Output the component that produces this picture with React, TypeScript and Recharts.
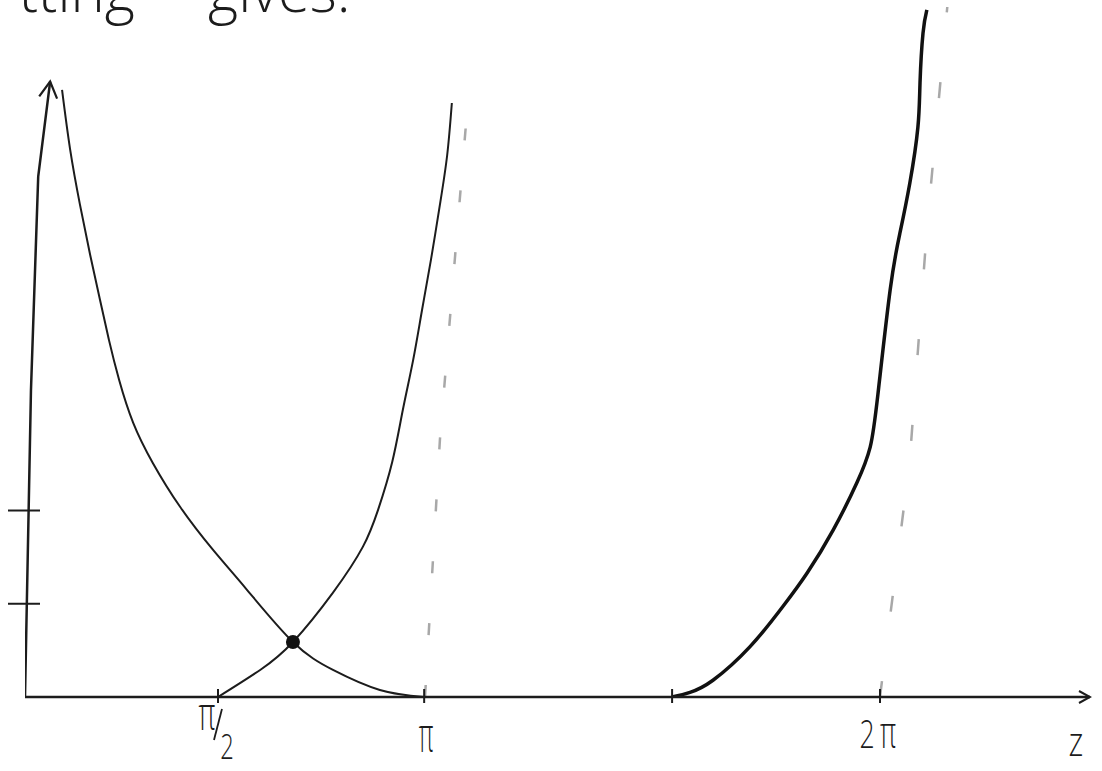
import React from "react";
import { ComposedChart, Line, XAxis, YAxis, ReferenceDot } from "recharts";

// z in units of π along the sketched axis (arrow tip at 2.5)
const Z_TICKS = [0.453, 0.937, 1.519, 2.007];
const Z_TICK_LABELS = ["π/2", "π", "", "2π"];
const Y_TICKS = [1, 2];

// falling branch: from the top of the axis down to zero at π
const FALL_Z = [0.087, 0.106, 0.129, 0.153, 0.176, 0.197, 0.221, 0.254, 0.3, 0.364, 0.441, 0.521, 0.629, 0.723, 0.833, 0.937];
const FALL_Y = [6.51, 5.87, 5.28, 4.74, 4.26, 3.83, 3.4, 2.94, 2.51, 2.04, 1.58, 1.15, 0.59, 0.29, 0.075, 0];

// rising branch: from π/2 up towards the asymptote past π
const RISE_Z = [0.453, 0.552, 0.629, 0.723, 0.793, 0.829, 0.862, 0.887, 0.911, 0.932, 0.953, 0.974, 0.991, 1.002];
const RISE_Y = [0, 0.29, 0.59, 1.12, 1.61, 2.01, 2.52, 3.08, 3.61, 4.15, 4.69, 5.28, 5.81, 6.37];

// second rising branch, heavier stroke, blowing up just past 2π
const RISE2_Z = [1.519, 1.561, 1.615, 1.702, 1.779, 1.836, 1.897, 1.953, 1.984, 2.002, 2.031, 2.054, 2.077, 2.096, 2.101, 2.108, 2.117];
const RISE2_Y = [0, 0.05, 0.18, 0.54, 0.97, 1.33, 1.79, 2.3, 2.68, 3.24, 4.37, 4.98, 5.51, 6.11, 6.59, 7.12, 7.37];

// dashed asymptotes
const ASYM1_Z = [0.939, 0.974, 1.038];
const ASYM1_Y = [0, 2.76, 6.3];
const ASYM2_Z = [2.007, 2.077, 2.117, 2.165];
const ASYM2_Y = [0, 2.54, 5.01, 7.4];

// hand-drawn vertical axis, leaning slightly right
const YAXIS_Z = [0, 0.014, 0.031, 0.059];
const YAXIS_Y = [0, 3.29, 5.58, 6.6];

const CROSSING = { z: 0.629, y: 0.59 };

const toRows = (zs: number[], ys: number[]) => zs.map((z, i) => ({ z, y: ys[i] }));

const INK = "#1c1c1c";
const HAND = "'Open Sans', 'DejaVu Sans', sans-serif";

// narrow, tall glyphs like the pen-drawn labels
const Glyph = ({ x, y, size, sx = 0.6, children }: any) => (
  <text
    transform={`translate(${x},${y}) scale(${sx},1)`}
    textAnchor="middle"
    fontFamily={HAND}
    fontWeight={300}
    fontSize={size}
    fill={INK}
  >
    {children}
  </text>
);

const ZTick = (props: any) => {
  const { x, index } = props;
  const y = 697;
  const label = Z_TICK_LABELS[index];
  return (
    <g>
      <line x1={x} x2={x} y1={y - 8} y2={y + 6} stroke={INK} strokeWidth={2} />
      {label === "π/2" && (
        <g>
          <Glyph x={x - 11} y={y + 33} size={46}>π</Glyph>
          <line x1={x - 4} y1={y + 43} x2={x + 4} y2={y + 12} stroke={INK} strokeWidth={1.8} />
          <Glyph x={x + 9} y={y + 62} size={34} sx={0.7}>2</Glyph>
        </g>
      )}
      {label === "π" && (
        <Glyph x={x + 2} y={y + 55} size={48} sx={0.5}>π</Glyph>
      )}
      {label === "2π" && (
        <g>
          <Glyph x={x - 13} y={y + 51} size={38} sx={0.7}>2</Glyph>
          <Glyph x={x + 8} y={y + 51} size={44} sx={0.6}>π</Glyph>
        </g>
      )}
    </g>
  );
};

const YTick = (props: any) => {
  const { x, y } = props;
  return <line x1={x - 17} x2={x + 15} y1={y} y2={y} stroke={INK} strokeWidth={2} />;
};

const ZLabel = (props: any) => {
  const { viewBox } = props;
  return (
    <Glyph x={viewBox.x + viewBox.width - 14} y={756} size={40} sx={0.8}>
      z
    </Glyph>
  );
};

export default function App() {
  return (
    <div style={{ position: "absolute", left: 0, top: 0, width: 1102, height: 771, background: "#fff" }}>
      <svg
        width={1102}
        height={90}
        style={{ position: "absolute", left: 0, top: 0, pointerEvents: "none", zIndex: 1 }}
      >
        <defs>
          <marker id="arrowUp" viewBox="0 0 24 24" refX="20" refY="12" markerWidth="24" markerHeight="24" markerUnits="userSpaceOnUse" orient="auto">
            <path d="M4,3 L20,12 L4,21" fill="none" stroke={INK} strokeWidth={2.2} />
          </marker>
          <marker id="arrowRight" viewBox="0 0 16 16" refX="14" refY="8" markerWidth="16" markerHeight="16" markerUnits="userSpaceOnUse" orient="auto">
            <path d="M3,2 L14,8 L3,14" fill="none" stroke={INK} strokeWidth={2} />
          </marker>
        </defs>
        <text x={135} y={12} textAnchor="end" fontFamily={HAND} fontWeight={300} fontSize={58} fill={INK}>
          tting
        </text>
        <text x={208} y={12} fontFamily={HAND} fontWeight={300} fontSize={58} fill={INK}>
          gives.
        </text>
      </svg>
      <ComposedChart width={1102} height={771} margin={{ top: 7, right: 12, bottom: 73, left: 0 }}>
        <XAxis
          type="number"
          dataKey="z"
          domain={[0, 2.5]}
          ticks={Z_TICKS}
          interval={0}
          height={1}
          allowDataOverflow
          tickSize={0}
          tickMargin={0}
          tickLine={false}
          axisLine={{ stroke: INK, strokeWidth: 2.5, markerEnd: "url(#arrowRight)" }}
          tick={ZTick}
          label={<ZLabel />}
        />
        <YAxis
          type="number"
          dataKey="y"
          domain={[0, 7.4]}
          ticks={Y_TICKS}
          width={25}
          allowDataOverflow
          tickSize={0}
          tickMargin={0}
          tickLine={false}
          axisLine={false}
          tick={YTick}
        />
        <Line
          data={toRows(ASYM1_Z, ASYM1_Y)}
          dataKey="y"
          type="linear"
          stroke="#a8a8a8"
          strokeWidth={2.5}
          strokeDasharray="12 50"
          dot={false}
          isAnimationActive={false}
        />
        <Line
          data={toRows(ASYM2_Z, ASYM2_Y)}
          dataKey="y"
          type="linear"
          stroke="#a8a8a8"
          strokeWidth={2.5}
          strokeDasharray="16 70"
          dot={false}
          isAnimationActive={false}
        />
        <Line
          data={toRows(YAXIS_Z, YAXIS_Y)}
          dataKey="y"
          type="linear"
          stroke={INK}
          strokeWidth={2.5}
          markerEnd="url(#arrowUp)"
          dot={false}
          isAnimationActive={false}
        />
        <Line
          data={toRows(FALL_Z, FALL_Y)}
          dataKey="y"
          type="natural"
          stroke={INK}
          strokeWidth={2}
          dot={false}
          isAnimationActive={false}
        />
        <Line
          data={toRows(RISE_Z, RISE_Y)}
          dataKey="y"
          type="natural"
          stroke={INK}
          strokeWidth={2}
          dot={false}
          isAnimationActive={false}
        />
        <Line
          data={toRows(RISE2_Z, RISE2_Y)}
          dataKey="y"
          type="natural"
          stroke="#111"
          strokeWidth={3.5}
          dot={false}
          isAnimationActive={false}
        />
        <ReferenceDot x={CROSSING.z} y={CROSSING.y} r={7} fill="#111" stroke="none" />
      </ComposedChart>
    </div>
  );
}
